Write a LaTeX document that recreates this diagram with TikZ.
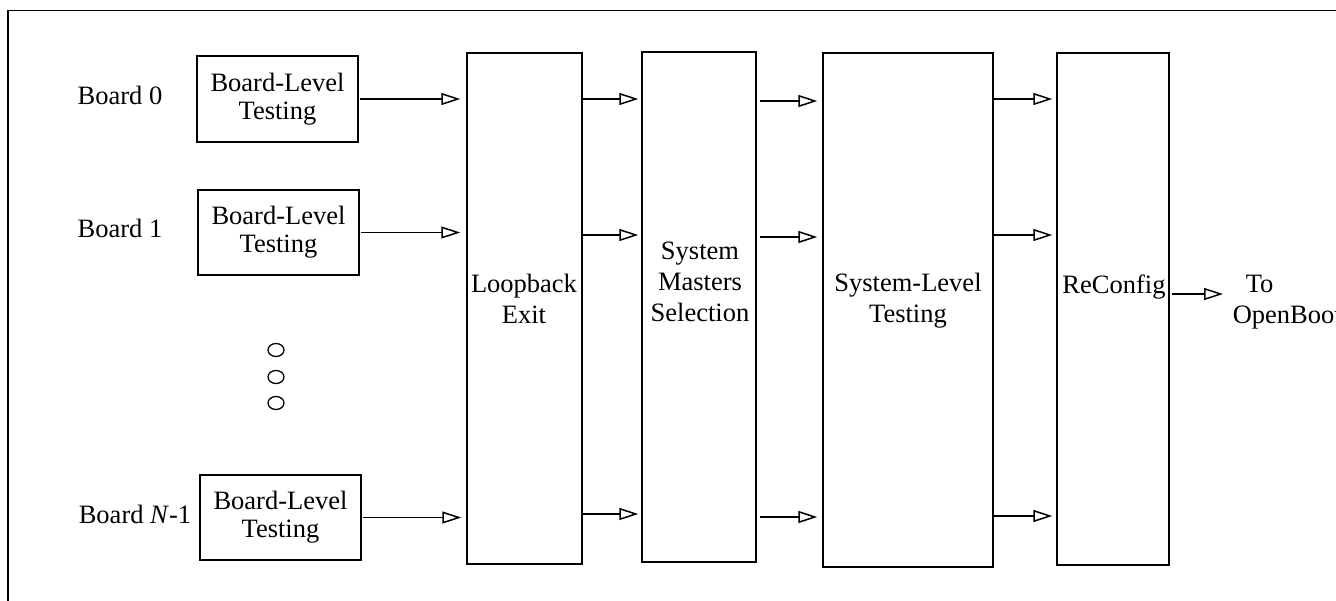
\documentclass[tikz,border=0pt]{standalone}
\usepackage{fontspec}
\setmainfont{Liberation Serif}
\usetikzlibrary{arrows.meta}
\begin{document}
\begin{tikzpicture}[x=1pt,y=-1pt, line width=1.5pt,
  box/.style={draw, line width=1.5pt, inner sep=0pt, align=center, font=\fontsize{26.5}{28}\selectfont},
  tall/.style={draw, line width=1.5pt, inner sep=0pt},
  lbl/.style={inner sep=0pt, align=center, font=\fontsize{26.5}{31}\selectfont},
  arr/.style={-{Triangle[open,length=19pt,width=12pt]}, line width=1.5pt, shorten >=4pt}
]
\fill[white] (0,0) rectangle (1336,600);
\useasboundingbox (0,0) rectangle (1336,600);
\clip (0,0) rectangle (1336,600);
% frame (clipped on right and bottom, as in the reference)
\draw (8,620) -- (8,10.5) -- (1350,10.5);

% board-level boxes
\node[box, minimum width=161pt, minimum height=86pt] (b0) at (277.5,99) {Board-Level\\Testing};
\node[box, minimum width=161pt, minimum height=85pt] (b1) at (278.5,232.5) {Board-Level\\Testing};
\node[box, minimum width=161pt, minimum height=85pt] (bN) at (280.5,517.5) {Board-Level\\Testing};

% board labels
\node[lbl, anchor=base] (l0) at (120,104) {Board 0};
\node[lbl, anchor=base] (l1) at (120,237) {Board 1};
\node[lbl, anchor=base] (lN) at (135,523) {Board \textit{N}-1};

% dots
\draw[line width=1.3pt] (276,350) ellipse [x radius=8pt, y radius=6.5pt];
\draw[line width=1.3pt] (276,377) ellipse [x radius=8pt, y radius=6.5pt];
\draw[line width=1.3pt] (276,403) ellipse [x radius=8pt, y radius=6.5pt];

% tall boxes
\node[tall, minimum width=115pt, minimum height=511pt] (loop) at (524.5,308.5) {};
\node[tall, minimum width=114pt, minimum height=510pt] (sm) at (699,307) {};
\node[tall, minimum width=170pt, minimum height=514pt] (sl) at (908,310) {};
\node[tall, minimum width=112pt, minimum height=512pt] (rc) at (1113,309) {};

% labels inside tall boxes
\node[lbl] (tloop) at (524,299) {Loopback\\Exit};
\node[lbl] (tsm) at (700,282) {System\\Masters\\Selection};
\node[lbl] (tsl) at (908,301) {System-Level\\Testing};
\node[lbl] (trc) at (1114,287) {ReConfig};
\node[lbl, align=left, anchor=west] (tob) at (1232,302) {\hspace*{13pt}To\\OpenBoot};

% row coordinates
\coordinate (p1a) at (0,99);  \coordinate (p1b) at (0,235); \coordinate (p1c) at (0,514);
\coordinate (p2a) at (0,101); \coordinate (p2b) at (0,237); \coordinate (p2c) at (0,517);
\coordinate (p3a) at (0,99);  \coordinate (p3b) at (0,235); \coordinate (p3c) at (0,516);
\coordinate (pout) at (0,294);

% arrows from board boxes
\draw[arr, shorten <=1pt, shorten >=6pt] (b0.east) -- (loop.west |- b0.east);
\draw[arr, shorten <=1pt, shorten >=6pt] (b1.east) -- (loop.west |- b1.east);
\draw[arr, shorten <=1pt, shorten >=5pt] (bN.east) -- (loop.west |- bN.east);

% loop -> sm
\draw[arr, shorten >=3pt] (loop.east |- p1a) -- (sm.west |- p1a);
\draw[arr, shorten >=3pt] (loop.east |- p1b) -- (sm.west |- p1b);
\draw[arr, shorten >=3pt] (loop.east |- p1c) -- (sm.west |- p1c);

% sm -> sl
\draw[arr, shorten <=3pt, shorten >=5pt] (sm.east |- p2a) -- (sl.west |- p2a);
\draw[arr, shorten <=3pt, shorten >=5pt] (sm.east |- p2b) -- (sl.west |- p2b);
\draw[arr, shorten <=3pt, shorten >=5pt] (sm.east |- p2c) -- (sl.west |- p2c);

% sl -> rc
\draw[arr] (sl.east |- p3a) -- (rc.west |- p3a);
\draw[arr] (sl.east |- p3b) -- (rc.west |- p3b);
\draw[arr] (sl.east |- p3c) -- (rc.west |- p3c);

% output
\draw[arr, shorten <=2pt, shorten >=9pt] (rc.east |- pout) -- (tob.west |- pout);
\end{tikzpicture}
\end{document}
